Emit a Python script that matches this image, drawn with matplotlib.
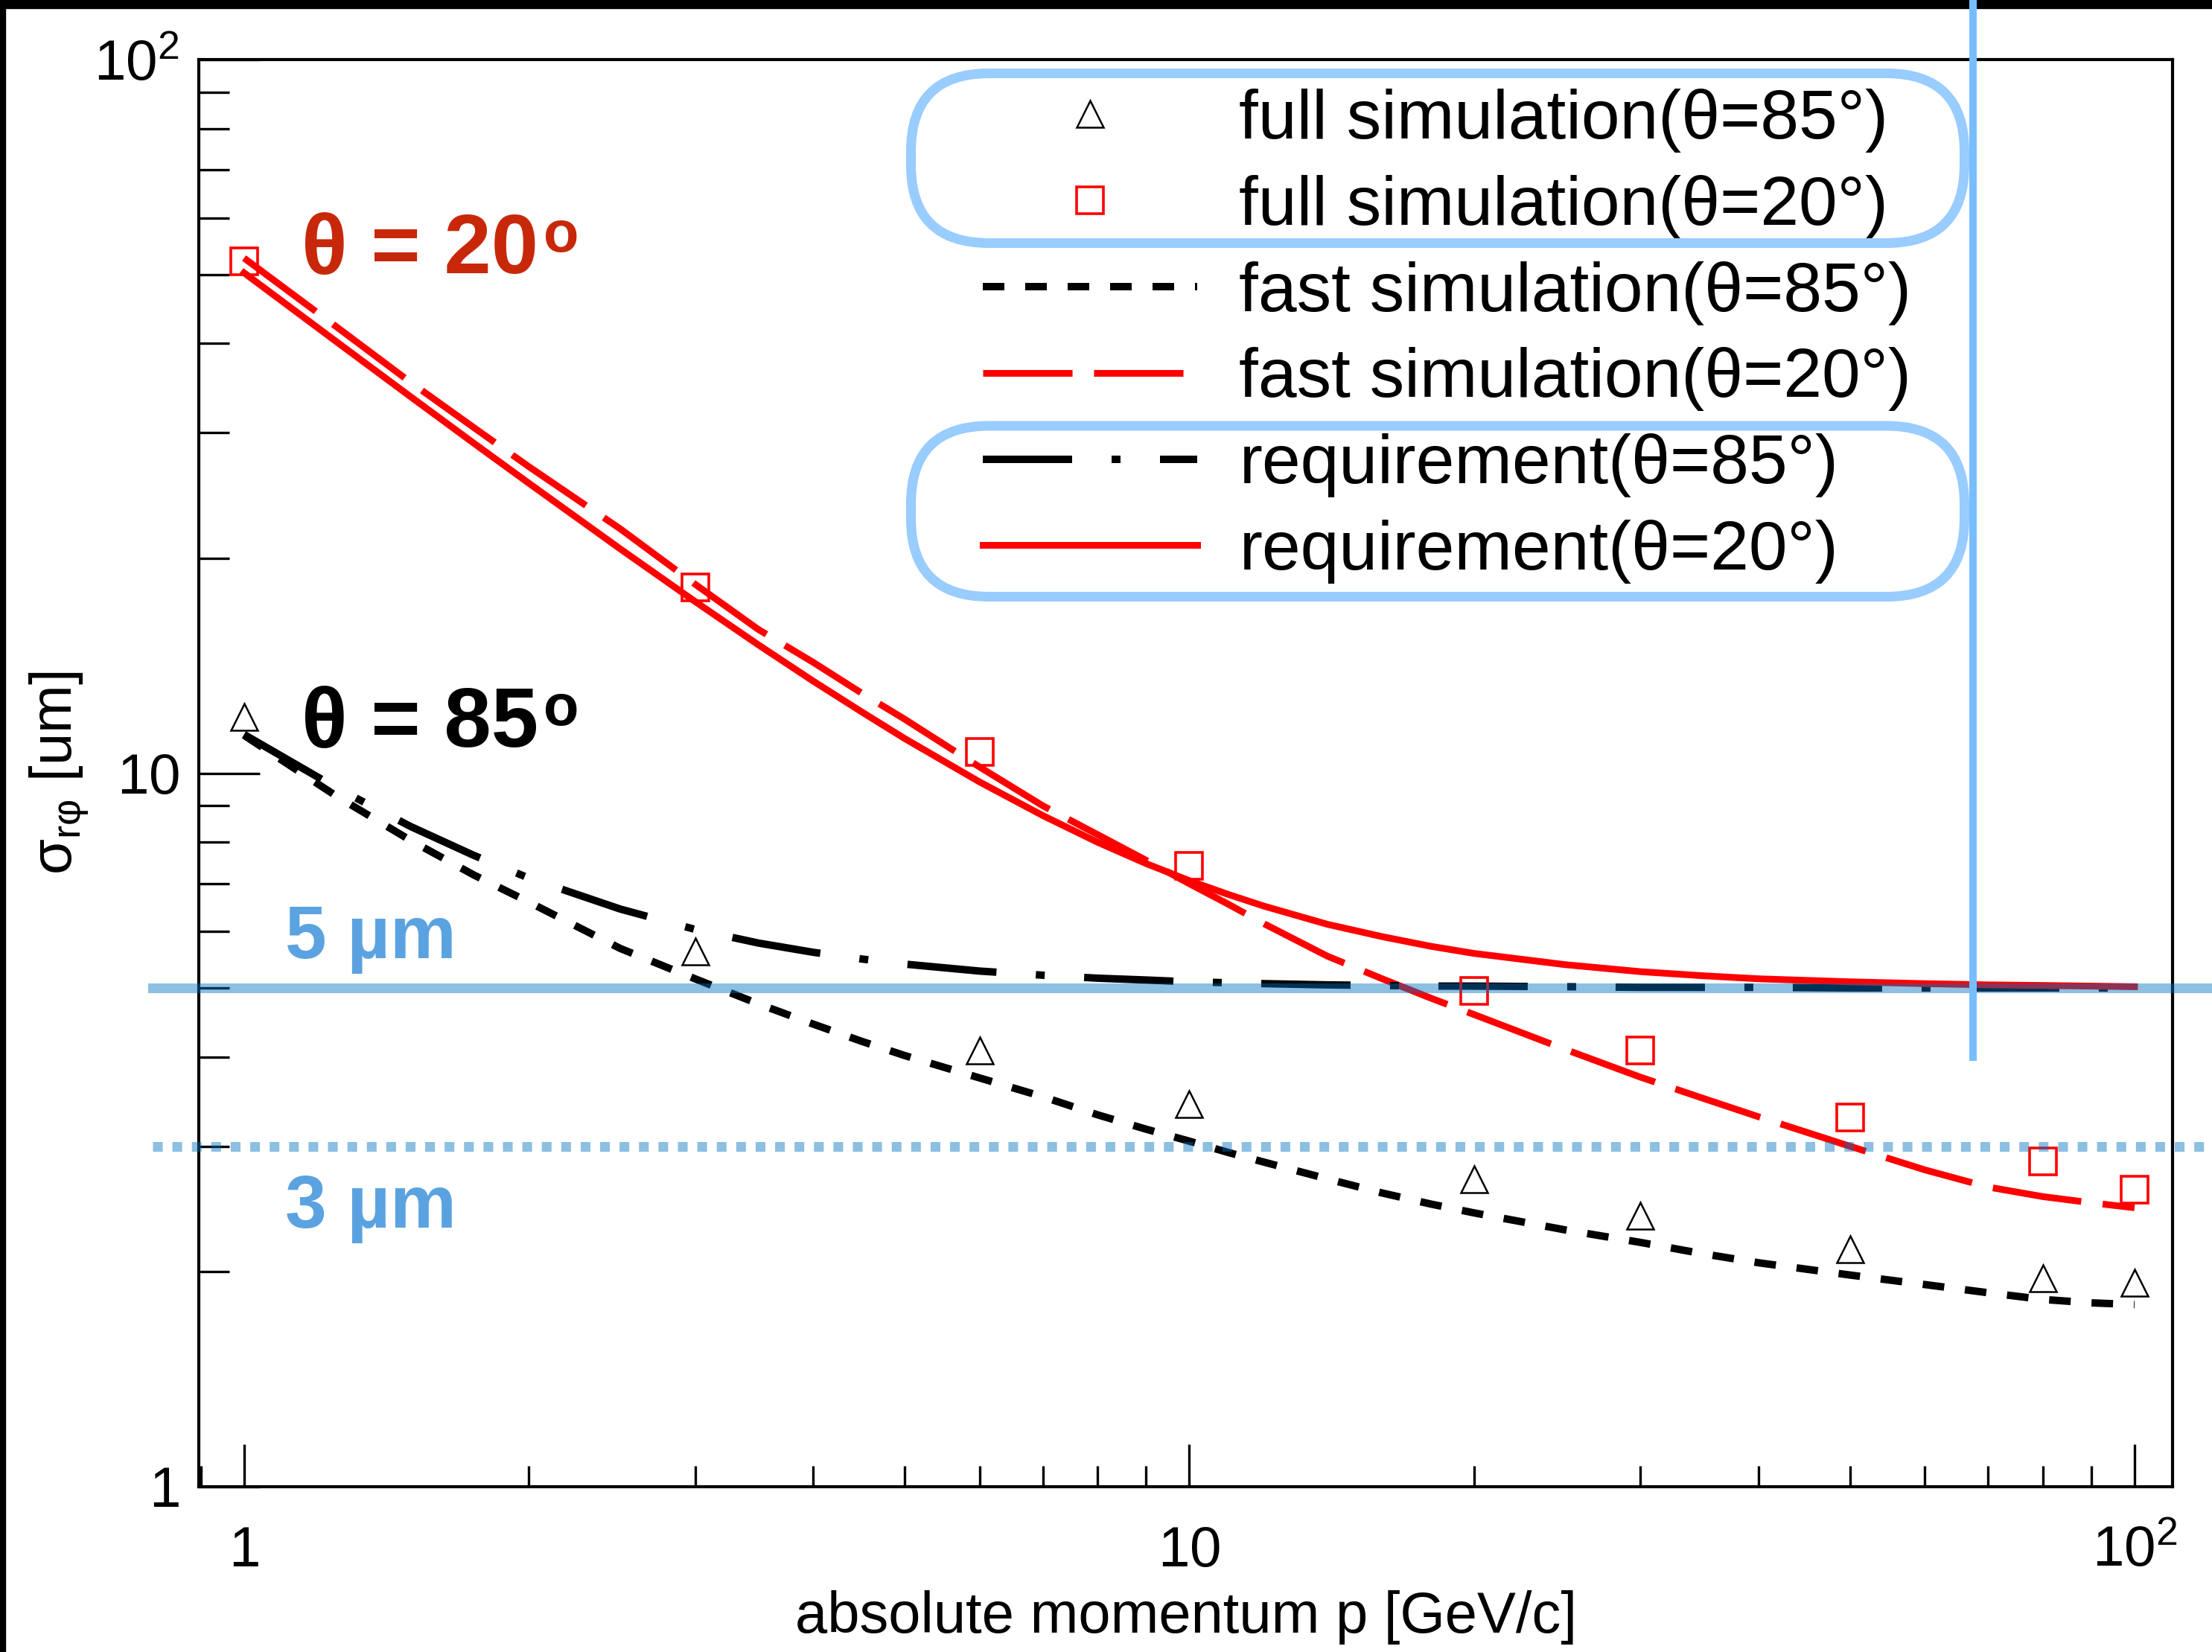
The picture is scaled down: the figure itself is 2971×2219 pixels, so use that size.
import matplotlib
matplotlib.use('Agg')
import matplotlib.pyplot as plt
from matplotlib.lines import Line2D
from matplotlib.patches import FancyBboxPatch, Rectangle
from matplotlib.transforms import blended_transform_factory
from matplotlib.ticker import NullFormatter

plt.rcParams['font.family'] = ['Liberation Sans', 'DejaVu Sans']
plt.rcParams['mathtext.fontset'] = 'custom'
plt.rcParams['mathtext.rm'] = 'Liberation Sans'
plt.rcParams['mathtext.it'] = 'Liberation Sans:italic'
plt.rcParams['mathtext.bf'] = 'Liberation Sans:bold'

# full simulation points
p_full = [1, 3, 6, 10, 20, 30, 50, 80, 100]
full_85 = [12.0, 5.62, 4.09, 3.44, 2.70, 2.40, 2.15, 1.96, 1.93]
full_20 = [52.2, 18.2, 10.7, 7.41, 4.95, 4.09, 3.29, 2.86, 2.61]

# curves (fast simulation and requirement)
p_curve = [1, 1.25, 1.5, 1.75, 2, 2.5, 3, 3.5, 4, 4.5, 5, 6, 7, 8, 9, 10,
           11, 12, 14, 16, 18, 20, 25, 30, 35, 40, 50, 60, 70, 80, 90, 100]
fast_85 = [11.3, 9.3, 8.05, 7.2, 6.6, 5.68, 5.15, 4.75, 4.45, 4.21, 4.02, 3.74,
           3.52, 3.32, 3.17, 3.05, 2.94, 2.85, 2.70, 2.58, 2.49, 2.42, 2.29, 2.20,
           2.12, 2.06, 1.98, 1.92, 1.87, 1.83, 1.81, 1.80]
fast_20 = [52.7, 42.3, 35.3, 30.5, 26.9, 22.0, 18.4, 15.9, 14.3, 12.95, 11.9, 10.2,
           9.0, 8.2, 7.55, 7.0, 6.55, 6.15, 5.54, 5.15, 4.84, 4.59, 4.1, 3.75,
           3.5, 3.3, 3.0, 2.78, 2.63, 2.55, 2.50, 2.46]
req_85 = [11.33, 9.55, 8.42, 7.67, 7.13, 6.45, 6.04, 5.78, 5.61, 5.49, 5.40, 5.28,
          5.21, 5.16, 5.13, 5.10, 5.085, 5.07, 5.05, 5.04, 5.03, 5.03, 5.02, 5.01,
          5.01, 5.01, 5.00, 5.00, 5.00, 5.00, 5.00, 5.00]
req_20 = [50.25, 40.31, 33.70, 29.00, 25.50, 20.62, 17.40, 15.13, 13.46, 12.19, 11.18, 9.72,
          8.72, 8.00, 7.47, 7.07, 6.76, 6.51, 6.14, 5.90, 5.72, 5.59, 5.39, 5.27,
          5.20, 5.15, 5.10, 5.07, 5.05, 5.04, 5.03, 5.02]

labels = ['full simulation(θ=85°)', 'full simulation(θ=20°)',
          'fast simulation(θ=85°)', 'fast simulation(θ=20°)',
          'requirement(θ=85°)', 'requirement(θ=20°)']

W, H = 2971, 2219
fig = plt.figure(figsize=(W / 100, H / 100), dpi=100)
ax = fig.add_axes([267 / W, 1 - 1997 / H, (2918 - 267) / W, (1997 - 80) / H])
ax.set_xscale('log')
ax.set_yscale('log')
ax.set_xlim(0.8956, 109.7)
ax.set_ylim(1, 100)

l_fast85, = ax.plot(p_curve, fast_85, color='black', lw=7.2, dashes=(2.9, 2.8))
l_fast20, = ax.plot(p_curve, fast_20, color='red', lw=6.5, dashes=(13.3, 3.2))
l_req85, = ax.plot(p_curve, req_85, color='black', lw=7.2, dashes=(12, 5.3, 1.2, 5.3))
l_req20, = ax.plot(p_curve, req_20, color='red', lw=6.5)
m85, = ax.plot(p_full, full_85, ls='none', marker='^', ms=26, mfc='none',
               mec='black', mew=1.8, zorder=4)
m20, = ax.plot(p_full, full_20, ls='none', marker='s', ms=26, mfc='none',
               mec='red', mew=2.6, zorder=4)

# axes styling
for s in ax.spines.values():
    s.set_linewidth(3)
ax.tick_params(axis='x', which='major', direction='in', length=41, width=2.4,
               labelsize=55, pad=77, top=False)
ax.tick_params(axis='x', which='minor', direction='in', length=20, width=2.4, top=False)
ax.tick_params(axis='y', which='major', direction='in', length=59, width=2.4,
               labelsize=55, pad=19, right=False)
ax.tick_params(axis='y', which='minor', direction='in', length=29.5, width=2.4, right=False)
ax.set_xticks([1, 10, 100], labels=[r'$\mathregular{1}$', r'$\mathregular{10}$',
                                    r'$\mathregular{10^{2}}$'])
ax.set_yticks([1, 10, 100], labels=[r'$\mathregular{1}$', r'$\mathregular{10}$',
                                    r'$\mathregular{10^{2}}$'])
ax.xaxis.set_minor_formatter(NullFormatter())
ax.yaxis.set_minor_formatter(NullFormatter())
for lab in ax.get_xticklabels():
    lab.set_verticalalignment('baseline')

ax.set_xlabel('absolute momentum p [GeV/c]', fontsize=56, va='baseline')
ax.xaxis.set_label_coords(0.5, (1997 - 2193) / 1917)
ax.set_ylabel(r'$\mathregular{\sigma_{r\varphi}}$ [um]', fontsize=56, va='center')
ax.yaxis.set_label_coords((80 - 267) / 2651, 0.5)

# annotations
t20 = ax.text(1.151, 50.2, 'θ = 20', color='#C8280A', fontsize=82,
              fontweight='bold', va='baseline', ha='left')
ax.annotate('o', xy=(1, 1), xycoords=t20, xytext=(5, 3), textcoords='offset points',
            fontsize=56, fontweight='bold', color='#C8280A', va='top', ha='left')
t85 = ax.text(1.151, 10.89, 'θ = 85', color='black', fontsize=82,
              fontweight='bold', va='baseline', ha='left')
ax.annotate('o', xy=(1, 1), xycoords=t85, xytext=(5, 3), textcoords='offset points',
            fontsize=56, fontweight='bold', color='black', va='top', ha='left')
ax.text(1.105, 5.50, '5 µm', color='#5BA3E0', fontsize=72, fontweight='bold', va='baseline')
ax.text(1.105, 2.305, '3 µm', color='#5BA3E0', fontsize=72, fontweight='bold', va='baseline')

# legend
ax.legend([m85, m20, l_fast85, l_fast20, l_req85, l_req20], labels,
          loc='upper left', bbox_to_anchor=(1320 / W, 1 - 119 / H),
          bbox_transform=fig.transFigure, frameon=False, fontsize=67,
          handlelength=3.1, handletextpad=0.6, labelspacing=0.32,
          borderpad=0, borderaxespad=0)

# rounded boxes around legend groups (inches)
for ytop, ybot in [(98.5, 326.5), (572, 801.5)]:
    box = FancyBboxPatch((1223.5 / 100, (H - ybot) / 100), 1415 / 100, (ybot - ytop) / 100,
                         boxstyle='round,pad=0,rounding_size=1.05',
                         transform=fig.dpi_scale_trans, fill=False,
                         ec='#99CCFF', lw=9.4, zorder=3)
    fig.add_artist(box)

# reference lines
hx = blended_transform_factory(fig.transFigure, ax.transData)
fig.add_artist(Line2D([205 / W, 1], [5, 5], transform=hx, color='#0071BD',
                      alpha=0.45, lw=9.4, zorder=4))
fig.add_artist(Line2D([205 / W, 1], [3, 3], transform=hx, color='#0071BD',
                      alpha=0.45, lw=9.4, ls=(0, (1, 1)), zorder=4))

# black frame bands
fig.add_artist(Rectangle((0, 1 - 11 / H), 1, 11 / H, transform=fig.transFigure,
                         color='black', zorder=5))
fig.add_artist(Rectangle((0, 0), 7 / W, 1, transform=fig.transFigure,
                         color='black', zorder=5))

vx = blended_transform_factory(ax.transData, fig.transFigure)
fig.add_artist(Line2D([67.5, 67.5], [1 - 1425 / H, 1], transform=vx, color='#78BEFF',
                      lw=7.2, solid_capstyle='butt', zorder=6))

fig.savefig('out.png')
